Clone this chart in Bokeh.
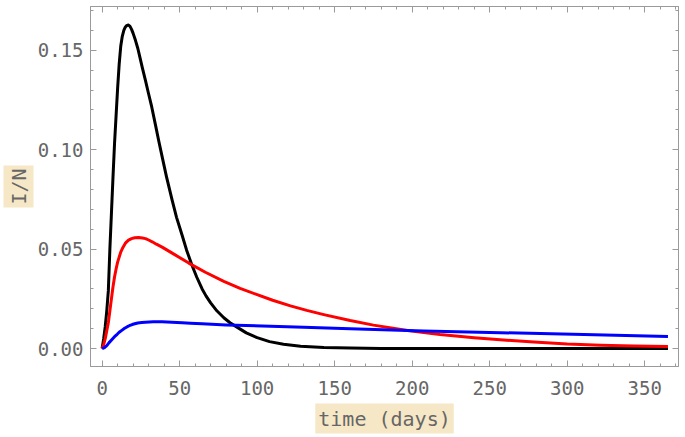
from bokeh.plotting import figure
from bokeh.models import LinearAxis, SingleIntervalTicker, Range1d, PrintfTickFormatter, Title
from bokeh.embed import file_html
from bokeh.resources import INLINE

# --- data ---
days_black = [0, 1, 2, 3, 4, 5, 6, 7, 8, 9, 10, 11, 12, 13, 14, 15, 16, 17, 18, 19,
              20, 21.5, 23, 24.5, 26, 27.9, 30, 32, 34.4, 36.5, 38.7, 41.5, 45.2, 48,
              51.6, 54.5, 57.9, 61, 64.5, 67, 70, 74, 78.5, 82.5, 87, 93, 100, 108,
              117, 128, 143, 160, 180, 240, 300, 365]
I_black = [0, 0.005, 0.011, 0.019, 0.029, 0.05, 0.068, 0.086, 0.103, 0.117, 0.131,
           0.143, 0.152, 0.157, 0.160, 0.1617, 0.1625, 0.1627, 0.162, 0.1605, 0.1585,
           0.155, 0.151, 0.146, 0.141, 0.135, 0.128, 0.1215, 0.1125, 0.1045, 0.0965,
           0.0865, 0.0745, 0.066, 0.057, 0.0495, 0.042, 0.036, 0.030, 0.0265, 0.023,
           0.019, 0.0155, 0.013, 0.0108, 0.0079, 0.0055, 0.0035, 0.0022, 0.0012,
           0.0006, 0.0003, 0.0001, 0.0, 0.0, 0.0]

days_red = [0, 1, 2, 3, 4, 5, 6, 7, 8, 9, 10, 11, 12, 13.5, 15, 17, 19, 21, 23.6, 26,
            28, 30, 32.3, 35, 38.7, 45.2, 55.9, 66.6, 78.5, 89, 100, 110, 121.5, 132,
            143, 160, 175, 197, 218, 240, 261, 278.5, 300, 321.5, 343, 365]
I_red = [0, 0.002, 0.005, 0.009, 0.013, 0.019, 0.025, 0.031, 0.036, 0.040, 0.0435,
         0.046, 0.0485, 0.051, 0.053, 0.0545, 0.0553, 0.0557, 0.0558, 0.0556, 0.0553,
         0.0546, 0.0537, 0.0525, 0.051, 0.048, 0.043, 0.0384, 0.0338, 0.0303, 0.0271,
         0.0243, 0.0215, 0.0192, 0.0171, 0.0141, 0.0118, 0.0091, 0.0071, 0.0055,
         0.0042, 0.0033, 0.0023, 0.0017, 0.0013, 0.0011]

days_blue = [0, 1.5, 3, 4.5, 6.5, 8, 9.7, 11, 12.9, 14.5, 16, 17.5, 19.4, 21, 23, 25.5,
             27.9, 33, 38.7, 45, 51.6, 57, 64.5, 80, 108.6, 130, 160, 207.5, 257,
             310.7, 365]
I_blue = [0, 0.0005, 0.0015, 0.003, 0.0047, 0.006, 0.0072, 0.0082, 0.0093, 0.0102,
          0.0109, 0.0115, 0.0121, 0.0125, 0.0129, 0.0131, 0.0133, 0.0135, 0.0135,
          0.0133, 0.0130, 0.0128, 0.0125, 0.0119, 0.0112, 0.0107, 0.0100, 0.0089,
          0.0080, 0.0071, 0.0061]

x_label = "time (days)"
y_label = "I/N"

X0, X1 = -7.5, 371.8
Y0, Y1 = -0.009, 0.172

FONT = "DejaVu Sans Mono"
TXT = "#666666"
BG = "#f6e8c6"
FRAME = "#9a9a9a"

p = figure(width=685, height=437, output_backend="svg", toolbar_location=None,
           x_range=Range1d(X0, X1), y_range=Range1d(Y0, Y1),
           min_border_left=90, min_border_right=7, min_border_top=6,
           min_border_bottom=68)
p.grid.visible = False
p.outline_line_color = FRAME
p.background_fill_color = "white"
p.border_fill_color = "white"

p.line(days_black, I_black, line_color="black", line_width=3, line_join="round")
p.line(days_red, I_red, line_color="#ff0000", line_width=3, line_join="round")
p.line(days_blue, I_blue, line_color="#0000ff", line_width=3, line_join="round")

xt = SingleIntervalTicker(interval=50, num_minor_ticks=5)
yt = SingleIntervalTicker(interval=0.05, num_minor_ticks=5)
bottom = p.below[0]
left = p.left[0]
bottom.ticker = xt
left.ticker = yt
left.formatter = PrintfTickFormatter(format="%.2f")

top = LinearAxis(ticker=xt, major_label_text_color=None, major_label_text_alpha=0,
                 major_label_standoff=0)
right = LinearAxis(ticker=yt, major_label_text_color=None, major_label_text_alpha=0,
                   major_label_standoff=0)
p.add_layout(top, "above")
p.add_layout(right, "right")

for ax in [bottom, left, top, right]:
    ax.axis_line_color = FRAME
    ax.major_tick_line_color = FRAME
    ax.minor_tick_line_color = FRAME
    ax.major_tick_in = 6
    ax.major_tick_out = 0
    ax.minor_tick_in = 3
    ax.minor_tick_out = 0

for ax in [bottom, left]:
    ax.major_label_text_font = FONT
    ax.major_label_text_font_size = "19px"
    ax.major_label_text_color = TXT

bottom.major_label_standoff = 14
left.major_label_standoff = 7

title_style = dict(text_font=FONT, text_font_size="20px", text_font_style="normal",
                   text_color=TXT, background_fill_color=BG, padding=3,
                   align="center")
p.add_layout(Title(text=x_label, standoff=8, **title_style), "below")
p.add_layout(Title(text=y_label, standoff=2, **title_style), "left")

open("out.html", "w").write(file_html(p, INLINE))
